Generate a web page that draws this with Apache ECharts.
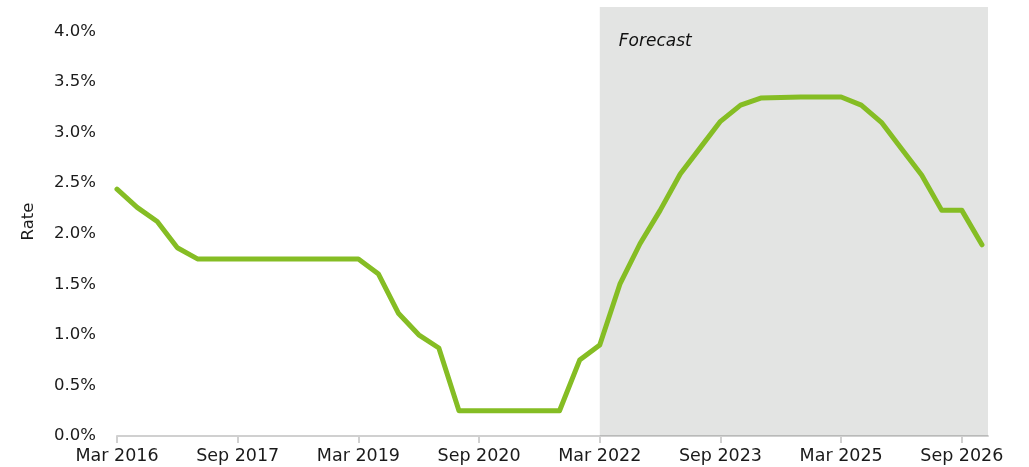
<!DOCTYPE html>
<html>
<head>
<meta charset="utf-8">
<title>Rate</title>
<script src="https://cdn.jsdelivr.net/npm/echarts@6/dist/echarts.min.js"></script>
<style>
  html, body { margin: 0; padding: 0; background: #ffffff; }
  #chart { width: 1029px; height: 467px; }
</style>
</head>
<body>
<div id="chart"></div>
<script>
// Quarter-end periods, Mar 2016 through Dec 2026
const quarters = [
  'Mar 2016', 'Jun 2016', 'Sep 2016', 'Dec 2016',
  'Mar 2017', 'Jun 2017', 'Sep 2017', 'Dec 2017',
  'Mar 2018', 'Jun 2018', 'Sep 2018', 'Dec 2018',
  'Mar 2019', 'Jun 2019', 'Sep 2019', 'Dec 2019',
  'Mar 2020', 'Jun 2020', 'Sep 2020', 'Dec 2020',
  'Mar 2021', 'Jun 2021', 'Sep 2021', 'Dec 2021',
  'Mar 2022', 'Jun 2022', 'Sep 2022', 'Dec 2022',
  'Mar 2023', 'Jun 2023', 'Sep 2023', 'Dec 2023',
  'Mar 2024', 'Jun 2024', 'Sep 2024', 'Dec 2024',
  'Mar 2025', 'Jun 2025', 'Sep 2025', 'Dec 2025',
  'Mar 2026', 'Jun 2026', 'Sep 2026', 'Dec 2026'
];

// Rate per quarter, in percent
const rate = [
  2.44, 2.26, 2.12, 1.86,
  1.75, 1.75, 1.75, 1.75,
  1.75, 1.75, 1.75, 1.75,
  1.75, 1.60, 1.21, 1.00,
  0.87, 0.25, 0.25, 0.25,
  0.25, 0.25, 0.25, 0.75,
  0.90, 1.50, 1.90, 2.23,
  2.59, 2.85, 3.11, 3.27,
  3.34, 3.345, 3.35, 3.35,
  3.35, 3.27, 3.10, 2.84,
  2.58, 2.23, 2.23, 1.89
];

// Labelled ticks: every sixth quarter
const tickQuarters = ['Mar 2016', 'Sep 2017', 'Mar 2019', 'Sep 2020', 'Mar 2022', 'Sep 2023', 'Mar 2025', 'Sep 2026'];
const yTicks = [0, 0.5, 1.0, 1.5, 2.0, 2.5, 3.0, 3.5, 4.0];

// Forecast period starts here
const forecastStart = 'Mar 2022';
const forecastLabel = 'Forecast';

const tickIdx = tickQuarters.map(q => quarters.indexOf(q));
const points = rate.map((v, i) => [i, v]);
const xMax = quarters.length - 1 + 0.3;

const chart = echarts.init(document.getElementById('chart'), null, { renderer: 'canvas' });

const labelFont = 'DejaVu Sans';

chart.setOption({
  animation: false,
  backgroundColor: '#ffffff',
  grid: { left: 117, right: 41, top: 7, bottom: 31, containLabel: false },
  xAxis: {
    type: 'value',
    min: 0,
    max: xMax,
    interval: 6,
    splitLine: { show: false },
    axisLine: { show: true, lineStyle: { color: '#d0d0d0', width: 2 } },
    axisTick: { show: true, length: 7, lineStyle: { color: '#d0d0d0', width: 2 }, customValues: tickIdx },
    axisLabel: {
      customValues: tickIdx,
      margin: 11,
      color: '#1a1a1a',
      fontFamily: labelFont,
      fontSize: 17.5,
      formatter: v => quarters[Math.round(v)] || ''
    }
  },
  yAxis: {
    type: 'value',
    min: 0,
    max: 4.24,
    interval: 0.5,
    name: 'Rate',
    nameLocation: 'middle',
    nameGap: 80,
    nameTextStyle: { color: '#1a1a1a', fontFamily: labelFont, fontSize: 16.5 },
    splitLine: { show: false },
    axisLine: { show: false },
    axisTick: { show: false },
    axisLabel: {
      customValues: yTicks,
      margin: 21,
      color: '#1a1a1a',
      fontFamily: labelFont,
      fontSize: 16.5,
      formatter: v => v.toFixed(1) + '%'
    }
  },
  series: [
    {
      name: 'Rate',
      type: 'line',
      data: points,
      symbol: 'none',
      z: 2,
      lineStyle: { color: '#85bd24', width: 5, cap: 'round', join: 'round' }
    },
    {
      name: forecastLabel,
      type: 'line',
      data: [],
      z: 3,
      silent: true,
      markArea: {
        silent: true,
        itemStyle: { color: 'rgba(5, 20, 12, 0.115)' },
        label: {
          show: true,
          position: 'insideTopLeft',
          distance: 0,
          offset: [19, 26],
          color: '#111111',
          fontFamily: labelFont,
          fontStyle: 'italic',
          fontSize: 17
        },
        data: [[
          { name: forecastLabel, xAxis: quarters.indexOf(forecastStart), yAxis: 0 },
          { xAxis: xMax, yAxis: 4.24 }
        ]]
      }
    }
  ]
});
</script>
</body>
</html>
